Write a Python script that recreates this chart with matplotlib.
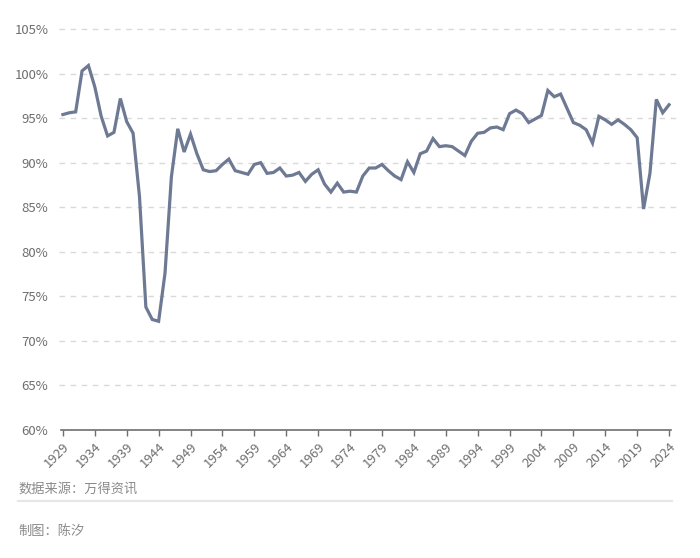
import matplotlib
matplotlib.use("Agg")
import matplotlib.pyplot as plt
from matplotlib.ticker import FuncFormatter
from matplotlib.lines import Line2D
from matplotlib.transforms import blended_transform_factory

plt.rcParams['font.family'] = ['Noto Sans CJK SC', 'DejaVu Sans']

years = list(range(1929, 2025))
values = [
    95.4, 95.6, 95.7, 100.3, 100.9, 98.5, 95.2, 93.0, 93.4, 97.2,   # 1929-1938
    94.6, 93.3, 86.2, 73.8, 72.4, 72.2, 77.6, 88.4, 93.8, 91.2,    # 1939-1948
    93.2, 91.0, 89.2, 89.0, 89.1, 89.8, 90.4, 89.1, 88.9, 88.7,    # 1949-1958
    89.8, 90.0, 88.8, 88.9, 89.4, 88.5, 88.6, 88.9, 87.9, 88.7,    # 1959-1968
    89.2, 87.6, 86.7, 87.7, 86.7, 86.8, 86.7, 88.5, 89.4, 89.4,    # 1969-1978
    89.8, 89.1, 88.5, 88.1, 90.1, 88.9, 91.0, 91.3, 92.7, 91.8,    # 1979-1988
    91.9, 91.8, 91.3, 90.8, 92.4, 93.3, 93.4, 93.9, 94.0, 93.7,    # 1989-1998
    95.5, 95.9, 95.5, 94.5, 94.9, 95.3, 98.1, 97.4, 97.7, 96.1,    # 1999-2008
    94.5, 94.2, 93.7, 92.2, 95.2, 94.8, 94.3, 94.8, 94.3, 93.7,    # 2009-2018
    92.8, 84.8, 88.8, 97.1, 95.6, 96.5,                            # 2019-2024
]
xtick_years = list(range(1929, 2025, 5))
yticks = [60, 65, 70, 75, 80, 85, 90, 95, 100, 105]
source_text = "数据来源：万得资讯"
author_text = "制图：陈汐"

W, H = 700, 558
fig = plt.figure(figsize=(W / 100, H / 100), dpi=100)
x0, x1 = 61, 671
ax = fig.add_axes([x0 / W, 1 - 430 / H, (x1 - x0) / W, (430 - 29) / H])

ax.plot(years, values, color='#6e7993', lw=2.3, solid_joinstyle='miter', zorder=3)

ax.set_xlim(1928.7, 2024.3)
ax.set_ylim(60, 105)
ax.set_yticks(yticks)
ax.yaxis.set_major_formatter(FuncFormatter(lambda v, p: f"{int(v)}%"))
ax.set_xticks(xtick_years)
ax.set_xticklabels([str(y) for y in xtick_years], rotation=45, ha='right',
                   rotation_mode='anchor')

trans = blended_transform_factory(ax.transAxes, ax.transData)
for yv in yticks[1:]:
    ax.plot([-0.003, 1.008], [yv, yv], transform=trans, color='#d9d9d9',
            linestyle=(0, (4, 4)), lw=1.0, clip_on=False, zorder=1)

for s in ['top', 'right', 'left']:
    ax.spines[s].set_visible(False)
ax.spines['bottom'].set_color('#6e6e6e')
ax.spines['bottom'].set_linewidth(1.2)
ax.tick_params(axis='y', length=0, pad=9, labelsize=9.5, labelcolor='#6e6e6e')
ax.tick_params(axis='x', length=4.5, width=1.0, color='#6e6e6e', pad=3,
               labelsize=9.5, labelcolor='#6e6e6e')

fig.text(18 / W, 1 - 489 / H, source_text, fontsize=9.5, color='#8a8a8a',
         va='center', ha='left')
fig.add_artist(Line2D([18 / W, 672 / W], [1 - 501 / H, 1 - 501 / H],
                      color='#e6e6e6', lw=1.5, transform=fig.transFigure))
fig.text(18 / W, 1 - 531 / H, author_text, fontsize=9.5, color='#8a8a8a',
         va='center', ha='left')

fig.savefig('out.png', dpi=100, facecolor='white')
